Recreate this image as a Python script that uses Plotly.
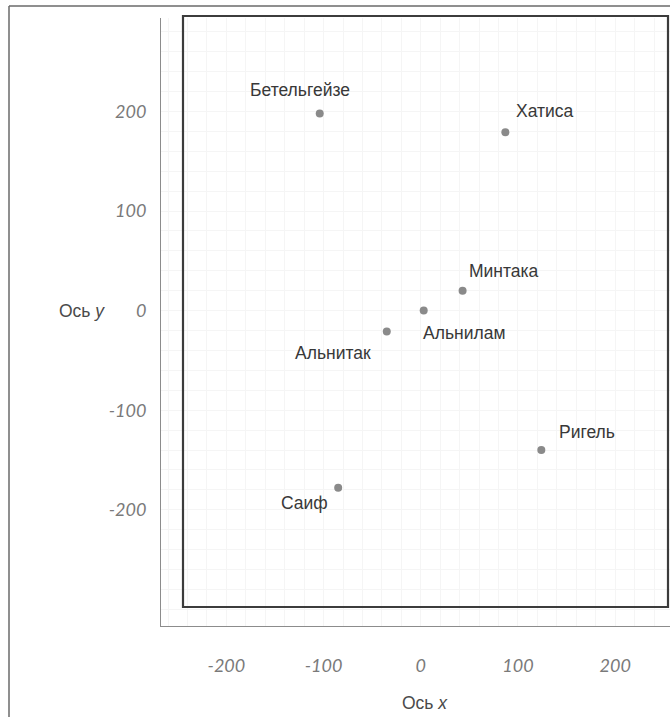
import plotly.graph_objects as go

# ---- data ----
stars = ["Бетельгейзе", "Хатиса", "Минтака", "Альнилам", "Альнитак", "Ригель", "Саиф"]
x_vals = [-104, 87, 43, 3, -35, 124, -85]
y_vals = [198, 179, 20, 0, -21, -140, -178]
tick_vals = [-200, -100, 0, 100, 200]
tick_text = ["-200", "-100", "0", "100", "200"]

# label offsets (pixels) relative to each star
label_dx = [-20, 40, 41, 40, -54, 46, -34]
label_dy = [23, 21, 20, -22, -21, 18, -15]

W, H = 670, 717
L, R, T, B = 161, 0, 18, 91

fig = go.Figure()
fig.add_trace(go.Scatter(
    x=x_vals, y=y_vals, mode="markers",
    marker=dict(size=8, color="#8a8a8a"),
    hoverinfo="text", text=stars, showlegend=False,
))

label_font = dict(family="Liberation Sans, Arial, sans-serif", size=17.5, color="#383838")
for name, xv, yv, dx, dy in zip(stars, x_vals, y_vals, label_dx, label_dy):
    fig.add_annotation(x=xv, y=yv, text=name, showarrow=False,
                       xshift=dx, yshift=dy, font=label_font)

tick_font = dict(family="Lato, DejaVu Sans, sans-serif", size=18, color="#7a7a7a", style="italic")
grid_col = "#f5f5f5"

fig.update_xaxes(
    range=[-267.3, 256.4], tickvals=tick_vals, ticktext=tick_text,
    tickfont=tick_font, ticks="", ticklabelstandoff=23,
    showline=True, linecolor="#8c8c8c", linewidth=1,
    showgrid=True, gridcolor=grid_col, zeroline=False,
    minor=dict(dtick=20, showgrid=True, gridcolor=grid_col),
)
fig.update_yaxes(
    range=[-316.7, 293.8], tickvals=tick_vals, ticktext=tick_text,
    tickfont=tick_font, ticks="", ticklabelstandoff=10,
    showline=True, linecolor="#8c8c8c", linewidth=1,
    showgrid=True, gridcolor=grid_col, zeroline=False,
    minor=dict(dtick=20, showgrid=True, gridcolor=grid_col),
)

pw = W - L - R
ph = H - T - B
def px(xp):
    return (xp - L) / pw
def py(yp):
    return (H - B - yp) / ph

# inner dark frame
fig.add_shape(type="rect", xref="paper", yref="paper",
              x0=px(183), x1=px(668), y0=py(607), y1=py(16),
              line=dict(color="#3c3c3c", width=2.2), layer="above")
# outer page frame (left and top)
fig.add_shape(type="line", xref="paper", yref="paper",
              x0=px(9), x1=px(9), y0=py(717), y1=py(6),
              line=dict(color="#6a6a6a", width=1.5))
fig.add_shape(type="line", xref="paper", yref="paper",
              x0=px(9), x1=px(670), y0=py(6), y1=py(6),
              line=dict(color="#6a6a6a", width=1.5))

axis_font = dict(family="Liberation Sans, Arial, sans-serif", size=17.5, color="#4a4a4a")
fig.add_annotation(xref="paper", yref="paper", x=px(57), y=py(311),
                   text="Ось <i>y</i>", showarrow=False, font=axis_font)
fig.add_annotation(xref="paper", yref="paper", x=px(425), y=py(703),
                   text="Ось <i>x</i>", showarrow=False, font=axis_font,
                   yanchor="middle")

fig.update_layout(
    width=W, height=H,
    margin=dict(l=L, r=R, t=T, b=B),
    paper_bgcolor="white", plot_bgcolor="white",
    showlegend=False,
)

fig.write_html(
    "out.html",
    config={"displayModeBar": False},
    post_script="document.body.style.margin='0';document.body.style.overflow='hidden';",
)
